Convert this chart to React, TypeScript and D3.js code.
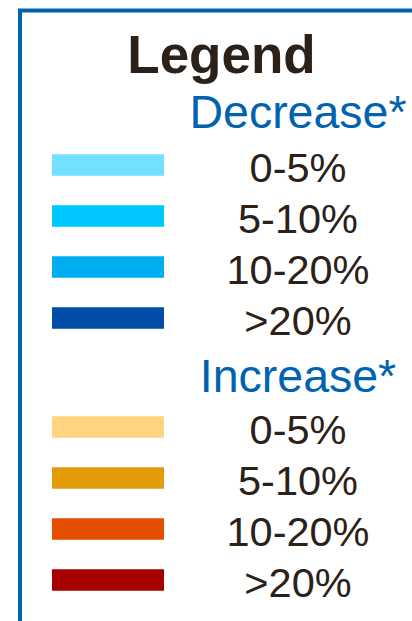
import React from "react";
import * as d3 from "d3";

const title = "Legend";
const groupTitles = ["Decrease*", "Increase*"];
const rangeLabels = ["0-5%", "5-10%", "10-20%", ">20%"];
const decreaseColors = ["#72E0FF", "#00C8FF", "#00AEEF", "#004EA8"];
const increaseColors = ["#FFD480", "#E39B0A", "#E54E00", "#A80000"];

const W = 412;
const H = 621;
const FONT = "'Liberation Sans', Arial, Helvetica, sans-serif";
const TEXT = "#2B2118";
const BLUE = "#0063B0";

export default function App() {
  const rowY = d3.scaleLinear().domain([0, 1]).range([0, 51]);
  const groupTop = [165, 427];
  const groups = [decreaseColors, increaseColors];
  const barX = d3.scaleLinear().domain([0, 1]).range([52, 164]);
  const labelX = 298;

  return (
    <svg
      width={W}
      height={H}
      style={{ position: "absolute", left: 0, top: 0, background: "#fff" }}
    >
      <rect x={0} y={0} width={W} height={H} fill="#fff" />
      <path
        d={`M20,${H} L20,10.5 L${W},10.5`}
        fill="none"
        stroke={BLUE}
        strokeWidth={4}
      />
      <text
        x={221.5}
        y={73}
        textAnchor="middle"
        fontFamily={FONT}
        fontWeight="bold"
        fontSize={53}
        fill={TEXT}
      >
        {title}
      </text>
      {groups.map((colors, g) => (
        <g key={g}>
          <text
            x={labelX}
            y={g === 0 ? 128 : 391.5}
            textAnchor="middle"
            fontFamily={FONT}
            fontSize={46.5}
            fill={BLUE}
          >
            {groupTitles[g]}
          </text>
          {colors.map((c, i) => {
            const cy = groupTop[g] + rowY(i);
            return (
              <g key={i}>
                <rect
                  x={barX(0)}
                  y={cy - 10.75}
                  width={barX(1) - barX(0)}
                  height={21.5}
                  fill={c}
                />
                <text
                  x={labelX}
                  y={cy + 16.5}
                  textAnchor="middle"
                  fontFamily={FONT}
                  fontSize={41.5}
                  fill={TEXT}
                >
                  {rangeLabels[i]}
                </text>
              </g>
            );
          })}
        </g>
      ))}
    </svg>
  );
}
